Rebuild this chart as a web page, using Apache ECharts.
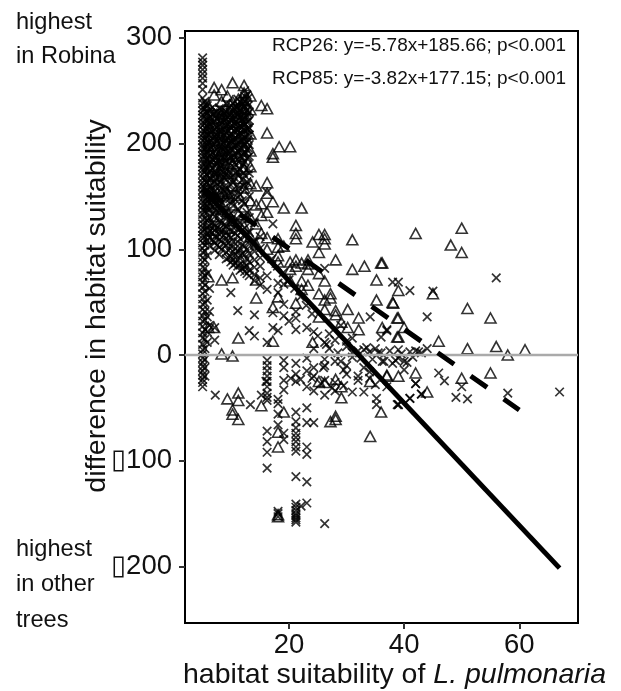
<!DOCTYPE html>
<html><head><meta charset="utf-8">
<script src="https://cdn.jsdelivr.net/npm/echarts@6/dist/echarts.min.js"></script>
<style>html,body{margin:0;background:#fff}#c{width:621px;height:691px}</style></head>
<body><div id="c"></div>
<script>
const xTicks = [20, 40, 60];
const yTicks = [-200, -100, 0, 100, 200, 300];
const yTickLabels = ['\u25AF200', '\u25AF100', '0', '100', '200', '300'];
const rcp26Line = [[5, 156.8], [67, -201.6]];
const rcp85Line = [[5, 158], [60, -52]];
const zeroLine = 0;
const noteRcp26 = 'RCP26: y=-5.78x+185.66; p<0.001';
const noteRcp85 = 'RCP85: y=-3.82x+177.15; p<0.001';

// crosses (RCP26), by column: [x, [y, ...]]
const crossColumns = [
 [5, [281,277,274,270,266,262,257,251,243,238,234,231,227,224,220,217,213,209,206,203,199,196,192,188,185,181,178,175,171,167,163,160,156,152,148,145,141,137,133,128,124,120,117,113,110,106,101,97,92,88,83,78,74,69,64,58,53,48,43,37,32,27,21,16,10,5,1,-3,-7,-11,-15,-19,-23,-26,-30]],
 [5.4, [240,233,226,219,211,204,196,189,181,174,166,158,152,143,136,129,119,112,104,98,90,82,75,66,60,49,41,33,24,15,6,-4,-12,-20]],
 [5.6, [237,230,223,214,207,200,193,186,178,171,163,155,147,139]],
 [5.8, [236,229,222,216,209,203,197,190,184,176,170,163,156,149,141,135,127,121,115,108,94,77,52,36,22,12]],
 [6.2, [232,225,219,213,208,201,194,188,180,173,168,160,151,144,138,130,122,117,111,103,63,41,28]],
 [6.4, [229,222,216,210,203,196,190,183,175,166,157,149,141]],
 [6.7, [234,228,220,212,205,199,191,185,176,169,158,147,134,125,116,109]],
 [7.1, [229,221,214,207,200,193,186,179,171,164,155,146,139,131,124,118,112,106,99,26,14]],
 [7.3, [226,218,211,204,197,189,182,175,167,159,152,143]],
 [7.5, [230,223,215,208,202,194,187,181,172,162,150,137,120,111,104]],
 [7.9, [233,226,218,212,205,197,191,183,177,169,159,150,142,133,126,119,114,109,102,95]],
 [8.1, [229,222,215,209,201,194,187,179,172,163,154,146,137]],
 [8.3, [232,226,219,211,204,196,189,182,174,165,144,127,118,108,100]],
 [8.7, [228,221,215,208,200,193,185,178,168,156,139,123,113,105]],
 [8.9, [231,224,217,211,203,196,188,181,171,160,151]],
 [9.1, [238,230,223,217,210,204,198,192,184,175,166,157,147,136,129,122,116,110,104,97,91]],
 [9.5, [233,225,218,212,205,199,193,186,170,151,132,113,106,99,92]],
 [9.7, [230,223,216,207,200,191,182,174,162,148]],
 [9.9, [236,228,222,215,209,202,195,187,178,168,154,145,134,124,117,111,103,93,88,59]],
 [10.3, [238,231,224,216,208,201,194,184,163,141,121,107,98,90,85]],
 [10.5, [233,227,219,212,205,197,189,177,168,155]],
 [10.7, [235,229,221,214,206,198,190,180,172,147,128,115,101,95,87]],
 [11.1, [242,233,226,219,213,207,200,193,185,173,161,149,138,128,119,113,107,98,90,84,42]],
 [11.3, [236,228,222,215,208,201,192,183,170,158]],
 [11.5, [240,232,225,217,210,203,196,188,176,152,125,110,101,94,86,80]],
 [11.9, [237,230,223,216,209,202,195,187,179,166,146,118,104,96,82]],
 [12.1, [242,234,227,220,213,205,198,190,181,172,160]],
 [12.3, [250,245,240,235,229,224,218,212,206,199,192,183,170,156,143,131,120,112,103,95,87,83,79]],
 [12.7, [246,238,231,226,220,214,207,201,194,186,164,135,115,100,91,84,77]],
 [12.9, [243,236,228,221,213,204,196,187,176,162]],
 [13.1, [230,222,215,208,199,188,172,150,130,116,105,96,88,80,75,23]],
 [14, [125,108,98,90,83,76,70,38,18]],
 [15, [112,101,92,84,73,66]],
 [16.2, [154,62,75,12,-5,-10,-15,-20,-25,-30,-36,-40,-43,-72,-82,-92,-107]],
 [18.1, [68,59,23,-42,-46,-56,-66,-150,-153,-148]],
 [19.1, [48,37,67,-24,-33,-74,-80,-12,-5]],
 [21.2, [41,35,24,-25,-18,-8,-54,-63,-69,-74,-78,-82,-87,-91,-115,-141,-144,-147,-150,-152,-154,-156,-158]],
 [23.1, [26,-30,-15,-50,-64,-87,-94,-120,-140,-3]],
 [24.3, [22,6,-12,-20,-34,-64]],
 [26.2, [12,-4,-10,-24,-38,-159.5,82]]
];
// scattered crosses read one by one
const crossX = [7.2,13.3,15.2,17.2,17.2,17.2,20.3,22.1,27,28,29,30,31,32,33,33,34,34,35,35,36,36,37,37,38,38,39,39,40,40,41,41,42,42,43,43,44,44,28,30,31,32,33,34,35.2,35.2,36.2,37,38.8,39,39,41,45,56,46,47,50,49,51,58,67,42,43,39,41,25,26.5,28,29,30,34.1,32.5,33.5,34.5,35.5,36.5,37.5,38.5,39.5,40.5,41.5,42.5,30,31,27,28.5,29.5,31,16,17,18,19,20,21,22,23,24,20,22,24,25.5,27.5,29.5,32,26,28];
const crossY = [-38,-47,-38,124,40,26,-22,-143,6,14,-6,-18,2,4,-12,5,3,-22,6,-28,17,2,24,23,69,-8,5,-3,-14,-6,61,3,4,-27,2,-37,36,6,-26,-10,-35,-24,-35,-16,-41,-47,-6,-30,-47,69,-47,-41,60.5,73,-17,-24.5,-30,-40,-41.5,-36,-35,-27,-37,-47,-41,18,10,-6,28,13,36,-3,7,-4,2,-6,4,-5,1,-7,-2,3,8,16,20,2,-14,-2,-25,91,84,78,71,63,55,47,39,32,-23,-22,-27,-31,-29,-20,-12,-34,-33];

// triangles (RCP85), by column
const triColumns = [
 [6, [236,215,198,178,162,143,125,110,74,26]],
 [7, [253,246,224,203,186,169,150,131,118,26]],
 [8.3, [251,240,228,209,193,174,155,138,122,71,1]],
 [9.3, [245,226,207,190,172,153,136,120,-41.5]],
 [10.2, [257.5,240,220,201,181,160,142,127,73,-1,-52,-56]],
 [11.2, [242,225,205,188,167,151,133,16,-36,-43,-61]],
 [12.2, [255,248,241,233,216,197,176,158,140,122]],
 [13.3, [245,232,209,193,178,162,146,130,112]],
 [14.3, [160,142,124,105,71,54]],
 [15.2, [236,143,132,115,-48]],
 [16.2, [233,210,163,153,135,111,100]],
 [17.2, [190.5,187,145,45,13]],
 [18.1, [110,102,94,88,55,-73,-87,-153,-151]],
 [19.1, [139,103,-54]],
 [20.2, [197,88,81,70]],
 [21.2, [122.6,115,110,90,84,49]],
 [22.2, [139,87,70,62]],
 [23.3, [90,86,81,66]],
 [25.2, [114,97,77,58,36,-25]],
 [26.2, [114,110,105,70,52,43,-26]],
 [28.1, [90,42,38,-23,-58,-61]]
];
const triX = [18.3,24.1,24.1,27.2,27.2,27.2,29.1,29.1,29.1,30.2,30.2,31,31,32.1,32.1,33.1,34.1,34.1,35.2,35.2,36,36,36.2,36.2,37,37,38,38.1,38.8,38.8,39,39,39,39,40,42,42,44,45,46,48.1,50,50,50,51,51,55,55,56,58,61];
const triY = [197,107,12,58,54,-63,31,-30,-40.5,43,26,109,81,35,24,84,-25,-77,71,52,87,-54,26,87,-19,-20,50,49,35,17,61,35,17,-20,26,115,-17,-35,58,13,104,120,97,-22,44,6,35,-17,8,0,5];

function expand(cols, xs, ys) {
  const out = [];
  cols.forEach(c => c[1].forEach(y => out.push([c[0], y])));
  xs.forEach((x, i) => out.push([x, ys[i]]));
  return out;
}
const chart = echarts.init(document.getElementById('c'), null, {renderer: 'canvas'});
const F = '"Liberation Sans","DejaVu Sans",sans-serif';
chart.setOption({
  animation: false,
  backgroundColor: '#fff',
  grid: {left: 185, right: 43, top: 31, bottom: 68, show: true, borderColor: '#000', borderWidth: 2, backgroundColor: 'transparent'},
  xAxis: {type: 'value', min: 1.94, max: 70.2, splitLine: {show: false},
    axisLine: {show: false, onZero: false},
    axisTick: {show: true, length: 6, lineStyle: {color: '#333', width: 2}, customValues: xTicks},
    axisLabel: {fontFamily: F, fontSize: 27.5, color: '#111', margin: 8, customValues: xTicks}},
  yAxis: {type: 'value', min: -253.5, max: 306.5, splitLine: {show: false},
    axisLine: {show: false, onZero: false},
    axisTick: {show: true, length: 6, lineStyle: {color: '#333', width: 2}, customValues: yTicks},
    axisLabel: {fontFamily: F, fontSize: 27.5, color: '#111', margin: 13, customValues: yTicks,
      formatter: v => yTickLabels[yTicks.indexOf(v)]}},
  series: [
    {type: 'scatter', data: expand(triColumns, triX, triY), symbol: 'triangle', symbolSize: [11, 10],
     itemStyle: {color: 'rgba(0,0,0,0)', borderColor: '#000', borderWidth: 1.6}, z: 2},
    {type: 'scatter', data: expand(crossColumns, crossX, crossY), symbol: 'path://M0 0L10 10M10 0L0 10', symbolSize: 8.5,
     itemStyle: {color: 'rgba(0,0,0,0)', borderColor: '#000', borderWidth: 1.7}, z: 3},
    {type: 'line', data: [[1.94, zeroLine], [70.2, zeroLine]], symbol: 'none', lineStyle: {color: '#aaa', width: 2.5}, z: 4},
    {type: 'line', data: rcp26Line, symbol: 'none', lineStyle: {color: '#000', width: 5}, z: 5},
    {type: 'line', data: rcp85Line, symbol: 'none', lineStyle: {color: '#000', width: 5, type: [20, 20.3], dashOffset: -5}, z: 5}
  ],
  graphic: [
    {type: 'text', left: 272, top: 36, style: {text: noteRcp26, font: '19px ' + F, fill: '#111'}, z: 10},
    {type: 'text', left: 272, top: 69, style: {text: noteRcp85, font: '19px ' + F, fill: '#111'}, z: 10},
    {type: 'text', left: 16, top: 10, style: {text: 'highest', font: '23.6px ' + F, fill: '#111'}},
    {type: 'text', left: 16, top: 44, style: {text: 'in Robina', font: '23.6px ' + F, fill: '#111'}},
    {type: 'text', left: 16, top: 537, style: {text: 'highest', font: '23.6px ' + F, fill: '#111'}},
    {type: 'text', left: 16, top: 572, style: {text: 'in other', font: '23.6px ' + F, fill: '#111'}},
    {type: 'text', left: 16, top: 608, style: {text: 'trees', font: '23.6px ' + F, fill: '#111'}},
    {type: 'text', left: 183, top: 661, style: {
      text: '{a|habitat suitability of }{b|L. pulmonaria}',
      rich: {a: {font: '28.5px ' + F, fill: '#111'}, b: {font: 'italic 28.5px ' + F, fill: '#111'}}}},
    {type: 'text', x: 97, y: 306, rotation: Math.PI / 2, style: {text: 'difference in habitat suitability', font: '28.5px ' + F, fill: '#111', align: 'center', verticalAlign: 'middle'}}
  ]
});
</script></body></html>
